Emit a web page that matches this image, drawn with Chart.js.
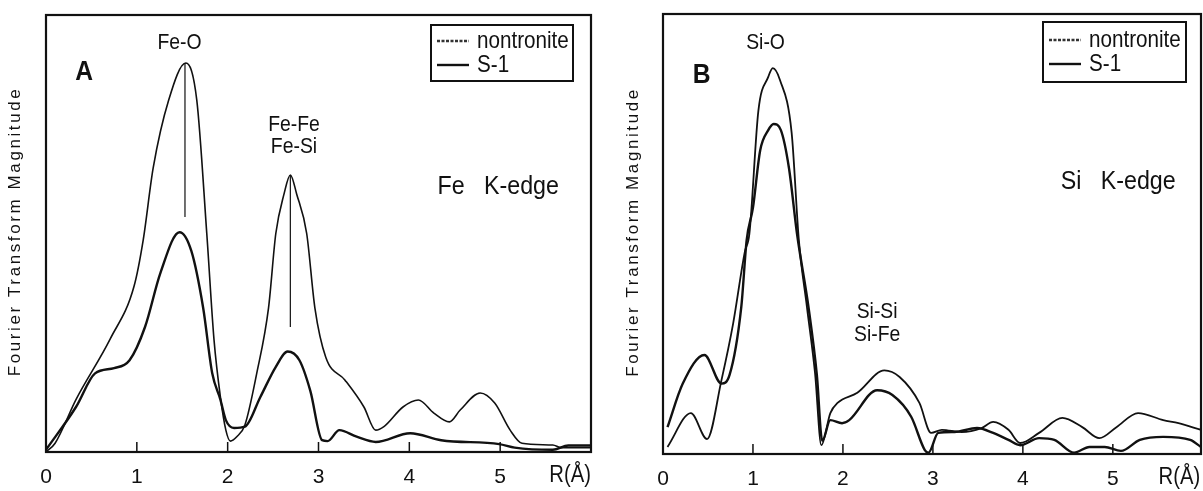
<!DOCTYPE html>
<html>
<head>
<meta charset="utf-8">
<script src="https://cdn.jsdelivr.net/npm/chart.js@4.4.0/dist/chart.umd.min.js"></script>
<style>
body { margin: 0; background: #fff; }
#wrap { position: relative; width: 1203px; height: 491px; }
.panel { position: absolute; top: 0; height: 491px; }
#panelA { left: 0; width: 600px; }
#panelB { left: 600px; width: 603px; }
</style>
</head>
<body>
<div id="wrap">
  <div class="panel" id="panelA"><canvas id="chartA"></canvas></div>
  <div class="panel" id="panelB"><canvas id="chartB"></canvas></div>
</div>
<script>
// ---- data (R in Angstrom, magnitude in arbitrary units 0-100)
var xTickLabels = [0, 1, 2, 3, 4, 5];
var seriesNames = ['nontronite', 'S-1'];
var yTitle = 'Fourier Transform Magnitude';

// Panel A : Fe K-edge
var feR_non   = [0, 0.1, 0.33, 0.71, 0.97, 1.07, 1.18, 1.35, 1.54, 1.66, 1.77, 1.85, 1.92, 1.98, 2.03, 2.1, 2.19, 2.32, 2.45, 2.53, 2.62, 2.69, 2.76, 2.87, 2.96, 3.08, 3.29, 3.5, 3.63, 3.72, 3.93, 4.1, 4.27, 4.44, 4.56, 4.78, 4.94, 5.11, 5.24, 5.58, 5.67, 6.0];
var feMag_non = [0, 2, 12, 26, 38, 48.5, 65, 80.5, 89, 80.5, 50, 25.6, 12.6, 5, 2.5, 3.5, 6.2, 18, 33, 50, 59, 63.4, 59, 50, 33, 21.7, 16.5, 10.3, 5, 5.8, 10.3, 11.9, 8.9, 6.9, 9.6, 13.5, 11.2, 5, 2, 1.6, 1, 1];
var feR_s1   = [0, 0.33, 0.54, 0.75, 0.92, 1.09, 1.26, 1.47, 1.6, 1.73, 1.83, 1.92, 1.98, 2.07, 2.19, 2.36, 2.53, 2.66, 2.79, 2.91, 3.04, 3.1, 3.23, 3.42, 3.63, 4.01, 4.35, 4.99, 5.16, 5.58, 5.75, 6.0];
var feMag_s1 = [0.5, 10.3, 18, 19.2, 21, 28.6, 41, 50.3, 46, 33, 18, 12, 7.3, 5.5, 5.8, 12.6, 19.5, 23, 21, 14, 2.7, 2.5, 5, 3.5, 2.3, 4.3, 2.7, 1.8, 1, 0.5, 1.5, 1.5];
// peak shift markers (R, top, bottom)
var feMarkR = [1.53, 2.69];
var feMarkTop = [89, 63.4];
var feMarkBottom = [53.8, 28.6];

// Panel B : Si K-edge
var siR_non   = [0.05, 0.31, 0.49, 0.65, 0.78, 0.91, 0.96, 1.06, 1.17, 1.22, 1.3, 1.43, 1.51, 1.6, 1.69, 1.76, 1.86, 1.94, 2.16, 2.46, 2.63, 2.85, 2.98, 3.1, 3.32, 3.54, 3.67, 3.84, 3.97, 4.18, 4.44, 4.66, 4.85, 5.04, 5.28, 5.56, 5.73, 5.98];
var siMag_non = [1.6, 9.3, 3.4, 16.8, 29.7, 46, 50, 78, 85.7, 87.7, 85, 73, 48.6, 33.4, 18.4, 2, 9.3, 11.6, 13.9, 19, 17.5, 11.6, 4.8, 5.5, 5, 5.9, 7.3, 5.5, 2.5, 4.8, 8.2, 6.1, 3.6, 6.1, 9.3, 7.7, 7, 5.5];
var siR_s1   = [0.05, 0.22, 0.46, 0.65, 0.74, 0.87, 0.93, 1.0, 1.08, 1.17, 1.23, 1.31, 1.4, 1.49, 1.62, 1.71, 1.77, 1.86, 1.99, 2.07, 2.38, 2.55, 2.76, 2.91, 2.95, 3.06, 3.24, 3.49, 3.67, 3.84, 3.97, 4.18, 4.35, 4.57, 4.74, 4.91, 5.09, 5.3, 5.56, 5.86, 5.98];
var siMag_s1 = [6.1, 16, 22.5, 16, 18, 33.4, 48.6, 56, 69, 73.6, 75, 73.6, 65, 50, 33, 18, 3, 7.7, 7, 7.7, 14.5, 13.4, 8.4, 0.9, 0.3, 4.8, 5, 5.9, 4.8, 3.2, 2, 3.6, 3.2, 0.3, 1.6, 1.6, 0.7, 3.2, 3.9, 3.2, 1.6];

var FONT = "'Liberation Sans', Arial, sans-serif";
var INK = '#111';

function pts(rs, ms) {
    return rs.map(function(r, i) { return { x: r, y: ms[i] }; });
}

// text squeezed a little horizontally, like the condensed face of the original
function squeezeText(ctx, text, x, y, sx) {
    ctx.save();
    ctx.translate(x, y);
    ctx.scale(sx, 1);
    ctx.fillText(text, 0, 0);
    ctx.restore();
}

// frame, inner ticks, labels, legend and axis title drawn on top of the chart
var panelDecor = {
    id: 'panelDecor',
    afterDatasetsDraw: function(chart, args, opts) {
        var ctx = chart.ctx, a = chart.chartArea, x = chart.scales.x, y = chart.scales.y;
        ctx.save();
        ctx.strokeStyle = INK;
        ctx.fillStyle = INK;
        ctx.lineWidth = 2.2;
        ctx.strokeRect(a.left, a.top, a.right - a.left, a.bottom - a.top);

        ctx.lineWidth = 1.5;
        ctx.beginPath();
        xTickLabels.slice(1).forEach(function(v) {
            var px = x.getPixelForValue(v);
            ctx.moveTo(px, a.bottom);
            ctx.lineTo(px, a.bottom - 10);
        });
        ctx.stroke();

        ctx.textAlign = 'center';
        ctx.textBaseline = 'middle';
        ctx.font = '23px ' + FONT;
        squeezeText(ctx, 'R(Å)', x.getPixelForValue(opts.unitAt), a.bottom + 24, 0.88);

        // y axis title
        ctx.save();
        ctx.font = '17px ' + FONT;
        ctx.letterSpacing = '2.6px';
        ctx.translate(opts.titleX, (a.top + a.bottom) / 2 - 2);
        ctx.rotate(-Math.PI / 2);
        ctx.fillText(yTitle, 0, 0);
        ctx.restore();

        // annotations
        opts.notes.forEach(function(n) {
            ctx.font = (n.bold ? 'bold ' : '') + n.size + 'px ' + FONT;
            ctx.textAlign = n.align || 'center';
            squeezeText(ctx, n.text, x.getPixelForValue(n.r), y.getPixelForValue(n.v), n.sx || 0.88);
        });

        // legend box
        var L = opts.legend;
        var bx = a.right - L.right - L.w, by = a.top + L.top;
        ctx.lineWidth = 2;
        ctx.strokeRect(bx, by, L.w, L.h);
        ctx.font = '24px ' + FONT;
        ctx.textAlign = 'left';
        seriesNames.forEach(function(name, i) {
            var ly = by + L.h / 2 + (i - 0.5) * 24;
            ctx.lineWidth = 2.4;
            ctx.setLineDash(i === 0 ? [3, 1.5] : []);
            ctx.strokeStyle = i === 0 ? '#333' : INK;
            ctx.beginPath();
            ctx.moveTo(bx + 6, ly);
            ctx.lineTo(bx + 38, ly);
            ctx.stroke();
            ctx.setLineDash([]);
            squeezeText(ctx, name, bx + 46, ly, 0.86);
        });
        ctx.restore();
    }
};

function lineSet(label, data, width) {
    return {
        label: label,
        data: data,
        borderColor: INK,
        borderWidth: width,
        pointRadius: 0,
        fill: false,
        cubicInterpolationMode: 'monotone'
    };
}

function makeChart(id, datasets, xMax, pad, axisH, deco) {
    return new Chart(document.getElementById(id).getContext('2d'), {
        type: 'line',
        data: { datasets: datasets },
        options: {
            responsive: true,
            maintainAspectRatio: false,
            animation: false,
            devicePixelRatio: 1,
            layout: { padding: pad },
            plugins: { legend: { display: false }, tooltip: { enabled: false }, panelDecor: deco },
            scales: {
                x: {
                    type: 'linear',
                    min: 0,
                    max: xMax,
                    border: { display: false },
                    grid: { display: false, drawTicks: false },
                    ticks: {
                        stepSize: 1,
                        autoSkip: false,
                        maxRotation: 0,
                        padding: 13,
                        color: INK,
                        font: { family: FONT, size: 21 },
                        callback: function(v) { return xTickLabels.indexOf(v) >= 0 ? String(v) : ''; }
                    },
                    afterFit: function(s) {
                        s.height = axisH;
                        s.paddingLeft = 0;
                        s.paddingRight = 0;
                    }
                },
                y: { min: 0, max: 100, display: false }
            }
        },
        plugins: [panelDecor]
    });
}

var feSets = [
    lineSet(seriesNames[0], pts(feR_non, feMag_non), 1.6),
    lineSet(seriesNames[1], pts(feR_s1, feMag_s1), 2.4)
];
feMarkR.forEach(function(r, i) {
    feSets.push(lineSet('', [{ x: r, y: feMarkTop[i] }, { x: r, y: feMarkBottom[i] }], 1.2));
});

var siSets = [
    lineSet(seriesNames[0], pts(siR_non, siMag_non), 1.8),
    lineSet(seriesNames[1], pts(siR_s1, siMag_s1), 2.4)
];

makeChart('chartA', feSets, 6, { left: 46, right: 9, top: 15, bottom: 0 }, 39, {
    unitAt: 5.77,
    titleX: 15,
    legend: { right: 18, top: 10, w: 142, h: 56 },
    notes: [
        { text: 'Fe-O', r: 1.47, v: 93.6, size: 22 },
        { text: 'A', r: 0.42, v: 87, size: 28, bold: true },
        { text: 'Fe-Fe', r: 2.73, v: 74.8, size: 22 },
        { text: 'Fe-Si', r: 2.73, v: 69.8, size: 22 },
        { text: 'Fe   K-edge', r: 4.31, v: 60.6, size: 25, align: 'left', sx: 0.93 }
    ]
});

makeChart('chartB', siSets, 5.98, { left: 63, right: 2, top: 14, bottom: 0 }, 37, {
    unitAt: 5.74,
    titleX: 33,
    legend: { right: 15, top: 8, w: 143, h: 60 },
    notes: [
        { text: 'Si-O', r: 1.14, v: 93.4, size: 22 },
        { text: 'B', r: 0.43, v: 86, size: 28, bold: true },
        { text: 'Si-Si', r: 2.38, v: 32.3, size: 22 },
        { text: 'Si-Fe', r: 2.38, v: 27, size: 22 },
        { text: 'Si   K-edge', r: 4.42, v: 61.8, size: 25, align: 'left', sx: 0.93 }
    ]
});
</script>
</body>
</html>
